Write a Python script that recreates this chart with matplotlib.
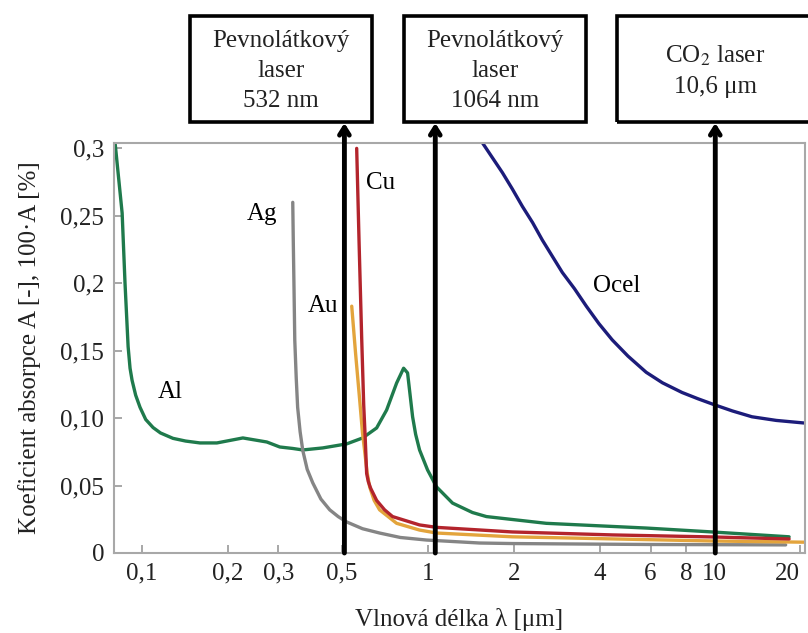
import matplotlib
matplotlib.use("Agg")
import matplotlib.pyplot as plt
from matplotlib.patches import Rectangle

plt.rcParams['font.family'] = ['Liberation Serif', 'DejaVu Serif']
plt.rcParams['mathtext.fontset'] = 'stix'

# absorption curves, wavelength in um vs absorption A [-]
al_x = [0.0805, 0.0852, 0.0872, 0.0894, 0.0908, 0.0923, 0.095, 0.0984, 0.103, 0.1093,
        0.116, 0.1283, 0.142, 0.1594, 0.1827, 0.2252, 0.2731, 0.3031, 0.3365, 0.3648,
        0.4284, 0.5196, 0.5907, 0.661, 0.7164, 0.7765, 0.8214, 0.8481, 0.8831, 0.905,
        0.934, 0.996, 1.071, 1.218, 1.43, 1.60, 2.59, 5.79, 9.85, 18.3]
al_y = [0.304, 0.252, 0.200, 0.153, 0.137, 0.128, 0.117, 0.108, 0.099, 0.093,
        0.089, 0.085, 0.083, 0.0816, 0.0816, 0.0853, 0.0823, 0.0786, 0.0775, 0.0764,
        0.0779, 0.0809, 0.0853, 0.0927, 0.106, 0.126, 0.137, 0.1335, 0.101, 0.088,
        0.0764, 0.0616, 0.049, 0.037, 0.030, 0.027, 0.022, 0.0185, 0.0156, 0.012]

ag_x = [0.3365, 0.338, 0.340, 0.342, 0.346, 0.350, 0.357, 0.3648, 0.378, 0.3953,
        0.422, 0.4532, 0.485, 0.5196, 0.59, 0.677, 0.80, 0.988, 1.513, 1.97, 5.93, 17.8]
ag_y = [0.260, 0.230, 0.195, 0.158, 0.130, 0.108, 0.090, 0.076, 0.062, 0.052,
        0.040, 0.032, 0.027, 0.023, 0.018, 0.0148, 0.0115, 0.0096, 0.0074, 0.0070,
        0.0063, 0.006]

cu_x = [0.563, 0.574, 0.586, 0.5957, 0.6028, 0.610, 0.618, 0.630, 0.661, 0.7047,
        0.7516, 0.934, 1.071, 1.97, 4.41, 9.85, 18.3]
cu_y = [0.300, 0.230, 0.160, 0.110, 0.086, 0.059, 0.053, 0.048, 0.039, 0.032,
        0.027, 0.0208, 0.019, 0.0156, 0.0134, 0.0119, 0.0104]

au_x = [0.541, 0.558, 0.577, 0.590, 0.600, 0.612, 0.625, 0.648, 0.677, 0.7765,
        0.934, 1.071, 1.97, 9.85, 20.8]
au_y = [0.183, 0.148, 0.113, 0.089, 0.076, 0.060, 0.049, 0.039, 0.032, 0.022,
        0.017, 0.0148, 0.012, 0.0089, 0.008]

ocel_x = [1.551, 1.68, 1.820, 1.97, 2.137, 2.32, 2.510, 2.72, 2.948, 3.25, 3.576,
          3.96, 4.406, 5.0, 5.790, 6.6, 7.731, 8.8, 10.0, 11.6, 13.57, 16.5, 20.6]
ocel_y = [0.304, 0.293, 0.282, 0.270, 0.257, 0.245, 0.232, 0.220, 0.208, 0.196, 0.183,
          0.170, 0.158, 0.146, 0.134, 0.1262, 0.119, 0.1143, 0.110, 0.1053, 0.101,
          0.0983, 0.0964]

xticks = [0.1, 0.2, 0.3, 0.5, 1, 2, 4, 6, 8, 10, 20]
xtick_labels = ['0,1', '0,2', '0,3', '0,5', '1', '2', '4', '6', '8', '10', '20']
yticks = [0, 0.05, 0.10, 0.15, 0.2, 0.25, 0.3]
ytick_labels = ['0', '0,05', '0,10', '0,15', '0,2', '0,25', '0,3']

laser_x = [0.51, 1.06, 10.1]
laser_text = ['Pevnolátkový\nlaser\n532 nm', 'Pevnolátkový\nlaser\n1064 nm', 'CO$_2$ laser\n10,6 μm']

fig = plt.figure(figsize=(8.08, 6.33), dpi=100)
ax = fig.add_axes([0.1411, 0.1264, 0.8552, 0.6477])

lw = 2.4
for xs, ys, c in [(al_x, al_y, '#1f7a4c'), (ag_x, ag_y, '#858585'), (au_x, au_y, '#e3a43c'),
                  (cu_x, cu_y, '#b3242c'), (ocel_x, ocel_y, '#1c1c7a')]:
    ax.plot(xs, ys, color=c, lw=lw, solid_capstyle='round', solid_joinstyle='round')

ax.set_xscale('log')
ax.set_xlim(0.0798, 20.8)
ax.set_ylim(0, 0.304)
ax.set_xticks(xticks)
ax.set_xticklabels(xtick_labels)
ax.minorticks_off()
ax.set_yticks(yticks)
ax.set_yticklabels(ytick_labels)
ax.tick_params(direction='in', length=6, width=1.3, color='#a0a0a0',
               labelsize=18, labelcolor='#222222', pad=7)
ax.get_xticklabels()[-1].set_horizontalalignment('right')
for s in ax.spines.values():
    s.set_color('#a8a8a8')
    s.set_linewidth(1.5)

ax.set_xlabel('Vlnová délka λ [μm]', fontsize=18, labelpad=17, color='#222222')
ax.set_ylabel('Koeficient absorpce A [-], 100·A [%]', fontsize=18, labelpad=14, color='#222222')

ax.text(0.125, 0.119, 'Al', fontsize=18, ha='center', va='center')
ax.text(0.262, 0.251, 'Ag', fontsize=18, ha='center', va='center')
ax.text(0.682, 0.274, 'Cu', fontsize=18, ha='center', va='center')
ax.text(0.429, 0.183, 'Au', fontsize=18, ha='center', va='center')
ax.text(4.55, 0.198, 'Ocel', fontsize=18, ha='center', va='center')

# laser boxes above the axes
W, H = 808.0, 633.0
boxes = [(190, 372), (404, 586), (617, 814)]
for (x0, x1), txt in zip(boxes, laser_text):
    fig.add_artist(Rectangle((x0 / W, 1 - 122 / H), (x1 - x0) / W, 106 / H,
                             transform=fig.transFigure, fill=False, lw=2.6,
                             edgecolor='black', clip_on=False))
    fig.text((x0 + x1) / 2 / W, 1 - 71 / H, txt, ha='center', va='center',
             fontsize=18, linespacing=1.45, color='#222222')

for lx in laser_x:
    ax.annotate('', xy=(lx, 1 - 123 / H), xycoords=('data', 'figure fraction'),
                xytext=(lx, 0), textcoords='data', annotation_clip=False,
                arrowprops=dict(arrowstyle='->,head_length=0.55,head_width=0.35',
                                lw=3.5, color='black', shrinkA=0, shrinkB=0))

fig.savefig('out.png', dpi=100)
